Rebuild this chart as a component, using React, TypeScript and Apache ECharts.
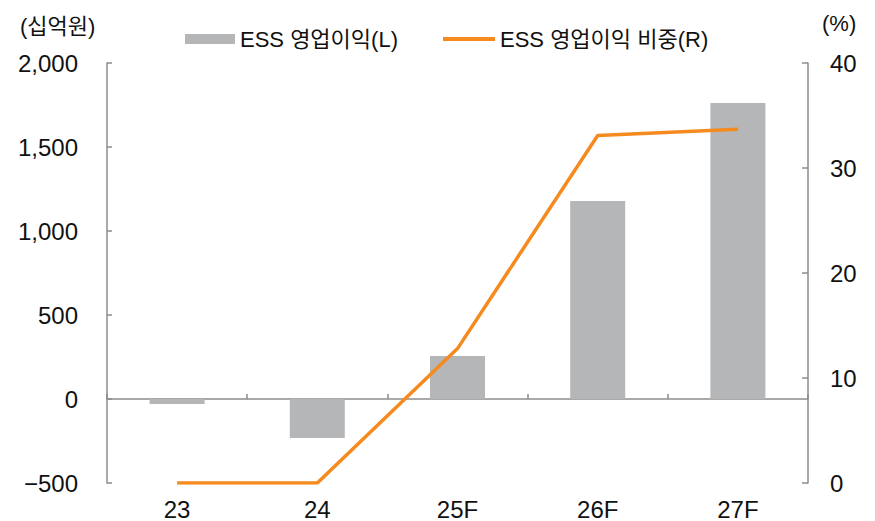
import React, { useEffect, useRef } from "react";
import * as echarts from "echarts";

const categories = ["23", "24", "25F", "26F", "27F"];
const essProfit = [-30, -232, 256, 1179, 1762];
const essShare = [0, 0, 12.8, 33.1, 33.7];
const leftTicks = { min: -500, max: 2000, interval: 500 };
const rightTicks = { min: 0, max: 40, interval: 10 };
const seriesNames = ["ESS 영업이익(L)", "ESS 영업이익 비중(R)"];
const unitLeft = "(십억원)";
const unitRight = "(%)";

const FONT = "'Liberation Sans', 'Noto Sans CJK KR', sans-serif";
const AXIS = "#8c8c8c";

export default function App() {
  const ref = useRef<HTMLDivElement>(null);
  useEffect(() => {
    if (!ref.current) return;
    const chart = echarts.init(ref.current, null, { renderer: "svg" });
    chart.setOption({
      animation: false,
      textStyle: { fontFamily: FONT },
      grid: { left: 107, right: 67, top: 63, bottom: 38 },
      legend: [
        {
          data: [seriesNames[0]],
          left: 180,
          top: 23,
          itemWidth: 50,
          itemHeight: 10,
          icon: "rect",
          textStyle: { fontSize: 22, color: "#111", fontFamily: FONT },
        },
        {
          data: [seriesNames[1]],
          left: 438,
          top: 23,
          itemWidth: 52,
          itemHeight: 4,
          icon: "rect",
          textStyle: { fontSize: 22, color: "#111", fontFamily: FONT },
        },
      ],
      graphic: [
        {
          type: "text",
          left: 20,
          top: 15,
          style: { text: unitLeft, fontSize: 22, fill: "#111", fontFamily: FONT },
        },
        {
          type: "text",
          left: 822,
          top: 12,
          style: { text: unitRight, fontSize: 22, fill: "#111", fontFamily: FONT },
        },
      ],
      xAxis: [
        {
          type: "category",
          data: categories,
          position: "bottom",
          axisLine: { show: false, onZero: false },
          axisTick: { show: false },
          axisLabel: { fontSize: 24, color: "#111", margin: 14, fontFamily: FONT },
        },
        {
          type: "category",
          data: categories,
          position: "bottom",
          axisLine: { show: true, onZero: true, onZeroAxisIndex: 0, lineStyle: { color: AXIS, width: 1.5 } },
          axisTick: { show: true, inside: true, length: 5, lineStyle: { color: AXIS, width: 1.5 } },
          axisLabel: { show: false },
        },
      ],
      yAxis: [
        {
          type: "value",
          ...leftTicks,
          position: "left",
          axisLine: { show: true, lineStyle: { color: AXIS, width: 1.5 } },
          axisTick: { show: true, inside: true, length: 5, lineStyle: { color: AXIS, width: 1.5 } },
          splitLine: { show: false },
          axisLabel: {
            fontSize: 24,
            color: "#111",
            margin: 29,
            fontFamily: FONT,
            formatter: (v: number) => v.toLocaleString("en-US").replace("-", "\u2212"),
          },
        },
        {
          type: "value",
          ...rightTicks,
          position: "right",
          axisLine: { show: true, lineStyle: { color: AXIS, width: 1.5 } },
          axisTick: { show: true, inside: true, length: 6, lineStyle: { color: AXIS, width: 1.5 } },
          splitLine: { show: false },
          axisLabel: { fontSize: 24, color: "#111", margin: 22, fontFamily: FONT },
        },
      ],
      series: [
        {
          name: seriesNames[0],
          type: "bar",
          xAxisIndex: 0,
          yAxisIndex: 0,
          data: essProfit,
          barWidth: 55,
          itemStyle: { color: "#b5b6b8" },
        },
        {
          name: seriesNames[1],
          type: "line",
          xAxisIndex: 0,
          yAxisIndex: 1,
          data: essShare,
          symbol: "none",
          lineStyle: { color: "#f58a1f", width: 3.5 },
          itemStyle: { color: "#f58a1f" },
        },
      ],
    });
    return () => chart.dispose();
  }, []);
  return <div ref={ref} style={{ position: "absolute", left: 0, top: 0, width: 875, height: 521 }} />;
}
